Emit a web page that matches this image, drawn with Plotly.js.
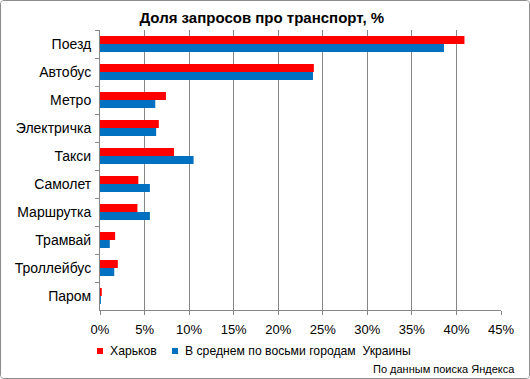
<!DOCTYPE html>
<html>
<head>
<meta charset="utf-8">
<script src="https://cdn.plot.ly/plotly-3.0.1.min.js"></script>
<style>
  html, body { margin: 0; padding: 0; background: #fff; }
  #chart { width: 528px; height: 377px; border: 1px solid #8c8c8c; border-radius: 4px; overflow: hidden; }
</style>
</head>
<body>
<div id="chart"></div>
<script>
const categories = ["Поезд", "Автобус", "Метро", "Электричка", "Такси", "Самолет", "Маршрутка", "Трамвай", "Троллейбус", "Паром"];
const kharkiv = [40.9, 24.0, 7.4, 6.6, 8.3, 4.3, 4.2, 1.7, 2.0, 0.2];
const ukraineAvg = [38.6, 23.9, 6.2, 6.3, 10.5, 5.6, 5.6, 1.1, 1.6, 0.1];
const seriesNames = ["Харьков", "В среднем по восьми городам  Украины"];
const seriesColors = ["#FF0000", "#0070C0"];
const xTickVals = [0, 5, 10, 15, 20, 25, 30, 35, 40, 45];
const xTickText = ["0%", "5%", "10%", "15%", "20%", "25%", "30%", "35%", "40%", "45%"];

const font = "Liberation Sans, Arial, sans-serif";

const traces = [
  { type: "bar", orientation: "h", name: seriesNames[0], y: categories, x: kharkiv,
    marker: { color: seriesColors[0] }, hoverinfo: "x+y" },
  { type: "bar", orientation: "h", name: seriesNames[1], y: categories, x: ukraineAvg,
    marker: { color: seriesColors[1] }, hoverinfo: "x+y" }
];

// custom legend (small square swatches like the original)
const legendSwatchX = [[-0.0075, 0.0075], [0.1796, 0.1946]];
const legendTextX = [0.02, 0.207];
const shapes = [], annotations = [];
for (let i = 0; i < 2; i++) {
  shapes.push({ type: "rect", xref: "paper", yref: "paper", x0: legendSwatchX[i][0], x1: legendSwatchX[i][1],
                y0: -0.157, y1: -0.1355, fillcolor: seriesColors[i], line: { width: 0 } });
  annotations.push({ text: seriesNames[i].replace(/  /g, "&nbsp; "), xref: "paper", yref: "paper", x: legendTextX[i], y: -0.146,
                     xanchor: "left", yanchor: "middle", showarrow: false, font: { size: 12.2 } });
}
annotations.push({ text: "По данным поиска Яндекса", xref: "paper", yref: "paper", x: 1.04, y: -0.21,
                   xanchor: "right", yanchor: "middle", showarrow: false, font: { size: 11 } });

const layout = {
  width: 528, height: 377,
  margin: { l: 99, r: 28, t: 29, b: 68 },
  paper_bgcolor: "#ffffff", plot_bgcolor: "#ffffff",
  font: { family: font, size: 12, color: "#000" },
  title: { text: "<b>Доля запросов про транспорт, %</b>", font: { family: font, size: 15, color: "#000" },
           x: 0.494, xref: "container", y: 0.955, yref: "container", xanchor: "center", yanchor: "middle" },
  barmode: "group", bargap: 0.43, bargroupgap: 0,
  xaxis: { range: [0, 45], tickvals: xTickVals, ticktext: xTickText, showgrid: true, gridcolor: "#868686", gridwidth: 1,
           showline: true, linecolor: "#868686", ticks: "outside", ticklen: 4, tickcolor: "#868686",
           zeroline: false, tickfont: { size: 13 }, ticklabelstandoff: 3 },
  yaxis: { type: "category", autorange: "reversed", showline: true, linecolor: "#868686", ticks: "outside",
           tickson: "boundaries", ticklen: 4, tickcolor: "#868686", showgrid: false, tickfont: { size: 14 },
           ticklabelstandoff: 5 },
  showlegend: false,
  shapes: shapes,
  annotations: annotations
};

Plotly.newPlot("chart", traces, layout, { displayModeBar: false, staticPlot: true });
</script>
</body>
</html>
